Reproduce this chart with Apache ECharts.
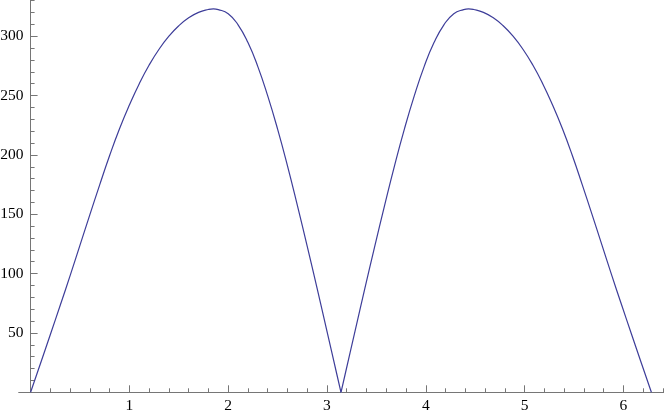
<!DOCTYPE html>
<html>
<head>
<meta charset="utf-8">
<script src="https://cdn.jsdelivr.net/npm/echarts@6/dist/echarts.min.js"></script>
<style>
html,body{margin:0;padding:0;background:#fff;}
#c{width:664px;height:417px;}
</style>
</head>
<body>
<div id="c"></div>
<script>
// Curve values: first hump (0..pi) and second hump (pi..2pi)
const hump1X = [0, 0.1, 0.2, 0.3, 0.4, 0.5, 0.6, 0.7, 0.8, 0.9, 1.0, 1.1, 1.2, 1.3, 1.4, 1.5, 1.6, 1.7, 1.8, 1.85, 1.9, 2.0, 2.1, 2.2, 2.3, 2.4, 2.5, 2.6, 2.7, 2.8, 2.9, 3.0, 3.1, 3.1416];
const hump1Y = [0, 24.3, 48.7, 73.3, 98.3, 124, 149.7, 175, 199.5, 222, 242, 260, 275.7, 289, 300, 308.8, 315.5, 320.1, 322.5, 323, 322.4, 319, 309.6, 294.6, 274.4, 249.7, 221.7, 190.8, 157.5, 123, 87.5, 51.3, 15, 0];
const hump2X = [3.1416, 3.1832, 3.2832, 3.3832, 3.4832, 3.5832, 3.6832, 3.7832, 3.8832, 3.9832, 4.0832, 4.1832, 4.2832, 4.3832, 4.4332, 4.4832, 4.5832, 4.6832, 4.7832, 4.8832, 4.9832, 5.0832, 5.1832, 5.2832, 5.3832, 5.4832, 5.5832, 5.6832, 5.7832, 5.8832, 5.9832, 6.0832, 6.1832, 6.2832];
const hump2Y = [0, 15, 51.3, 87.5, 123, 157.5, 190.8, 221.7, 249.7, 274.4, 294.6, 309.6, 319, 322.4, 323, 322.5, 320.1, 315.5, 308.8, 300, 289, 275.7, 260, 242, 222, 199.5, 175, 149.7, 124, 98.3, 73.3, 48.7, 24.3, 0];

// Tick labels
const xTickLabels = [1, 2, 3, 4, 5, 6];
const yTickLabels = [50, 100, 150, 200, 250, 300];
const xMinorStep = 0.2;
const yMinorStep = 10;

const X_MIN = 0, X_MAX = 6.413, X_STUB = -0.12;
const Y_MIN = 0, Y_MAX = 330.5;

const xMinor = [];
for (let k = 1; k * xMinorStep <= X_MAX; k++) xMinor.push(+(k * xMinorStep).toFixed(2));
const yMinor = [];
for (let k = 1; k * yMinorStep <= Y_MAX; k++) yMinor.push(k * yMinorStep);

const pairs = (xs, ys) => xs.map((x, i) => [x, ys[i]]);

const axisColor = '#767676';
const font = {fontFamily: 'Liberation Serif', fontSize: 15.5, color: '#000'};
const plotH = 392.3;

const chart = echarts.init(document.getElementById('c'), null, {renderer: 'canvas'});
chart.setOption({
  animation: false,
  backgroundColor: '#fff',
  grid: [
    {left: 30.6, top: 0, width: 633.6, height: plotH, outerBoundsMode: 'none', containLabel: false},
    {left: 18.7, top: 0, width: 645.5, height: plotH, outerBoundsMode: 'none', containLabel: false}
  ],
  xAxis: [
    { // major ticks + labels
      type: 'value', gridIndex: 0, min: X_MIN, max: X_MAX, position: 'bottom',
      splitLine: {show: false},
      axisLine: {show: false, onZero: false},
      axisTick: {show: true, inside: true, length: 7, customValues: xTickLabels, lineStyle: {color: axisColor}},
      axisLabel: {show: true, customValues: xTickLabels, margin: 6, ...font}
    },
    { // axis line (with short stub left of the y axis) + minor ticks
      type: 'value', gridIndex: 1, min: X_STUB, max: X_MAX, position: 'bottom',
      splitLine: {show: false},
      axisLine: {show: true, onZero: false, lineStyle: {color: axisColor, width: 1}},
      axisTick: {show: true, inside: true, length: 4, customValues: xMinor, lineStyle: {color: axisColor}},
      axisLabel: {show: false}
    }
  ],
  yAxis: [
    { // line + major ticks + labels
      type: 'value', gridIndex: 0, min: Y_MIN, max: Y_MAX, position: 'left', offset: 0,
      splitLine: {show: false},
      axisLine: {show: true, onZero: false, lineStyle: {color: axisColor, width: 1}},
      axisTick: {show: true, inside: true, length: 7, customValues: yTickLabels, lineStyle: {color: axisColor}},
      axisLabel: {show: true, customValues: yTickLabels, margin: 7, ...font}
    },
    { // minor ticks
      type: 'value', gridIndex: 0, min: Y_MIN, max: Y_MAX, position: 'left', offset: 0,
      splitLine: {show: false},
      axisLine: {show: false, onZero: false},
      axisTick: {show: true, inside: true, length: 4, customValues: yMinor, lineStyle: {color: axisColor}},
      axisLabel: {show: false}
    },
    { // helper for second grid
      type: 'value', gridIndex: 1, min: Y_MIN, max: Y_MAX, show: false
    }
  ],
  series: [
    {
      type: 'line', xAxisIndex: 0, yAxisIndex: 0, data: pairs(hump1X, hump1Y),
      smooth: 0.5, showSymbol: false, clip: false,
      lineStyle: {color: '#3d3d99', width: 1.2}
    },
    {
      type: 'line', xAxisIndex: 0, yAxisIndex: 0, data: pairs(hump2X, hump2Y),
      smooth: 0.5, showSymbol: false, clip: false,
      lineStyle: {color: '#3d3d99', width: 1.2}
    }
  ]
});
</script>
</body>
</html>
